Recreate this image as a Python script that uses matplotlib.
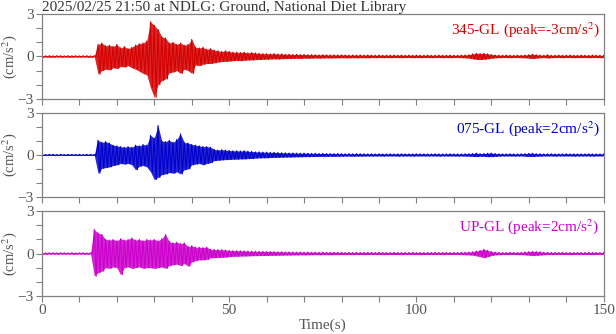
import matplotlib.pyplot as plt
import numpy as np
from matplotlib.ticker import MultipleLocator

plt.rcParams["font.family"] = ["Liberation Serif", "DejaVu Serif"]
plt.rcParams["mathtext.fontset"] = "stix"

TITLE = "2025/02/25 21:50 at NDLG: Ground, National Diet Library"

# envelope of each trace, one (max, min) pair per second, 0..150 s  (cm/s^2)
time_s = np.arange(0, 151)

red_max = [
    0.05, 0.04, 0.05, 0.04, 0.05, 0.05, 0.04, 0.05, 0.04, 0.05, 0.04, 0.05, 0.05, 0.04, 0.05,
    0.85, 0.95, 0.75, 0.80, 0.70, 0.85, 0.60, 0.70, 0.55, 0.65, 0.80, 0.90, 0.95, 1.10, 2.45,
    2.20, 1.90, 1.40, 1.30, 0.95, 1.00, 0.85, 0.95, 0.80, 0.85, 1.20, 0.65, 0.60, 0.65, 0.50,
    0.55, 0.45, 0.40, 0.35, 0.40, 0.35, 0.30, 0.30, 0.28, 0.30, 0.25, 0.28, 0.25, 0.22, 0.20,
    0.20, 0.18, 0.20, 0.17, 0.18, 0.15, 0.16, 0.14, 0.15, 0.13, 0.14, 0.12, 0.13, 0.12, 0.11,
    0.12, 0.11, 0.10, 0.11, 0.10, 0.11, 0.10, 0.09, 0.10, 0.09, 0.10, 0.09, 0.10, 0.09, 0.08,
    0.09, 0.08, 0.09, 0.08, 0.09, 0.08, 0.09, 0.08, 0.09, 0.08, 0.09, 0.08, 0.08, 0.09, 0.08,
    0.08, 0.09, 0.08, 0.08, 0.09, 0.08, 0.08, 0.09, 0.10, 0.12, 0.18, 0.22, 0.20, 0.22, 0.18,
    0.14, 0.10, 0.09, 0.08, 0.09, 0.08, 0.08, 0.09, 0.08, 0.10, 0.12, 0.16, 0.12, 0.09, 0.08,
    0.12, 0.08, 0.08, 0.09, 0.08, 0.08, 0.09, 0.08, 0.08, 0.09, 0.08, 0.08, 0.09, 0.08, 0.08,
    0.08,
]
red_min = [
    -0.05, -0.04, -0.05, -0.05, -0.04, -0.05, -0.04, -0.05, -0.05, -0.04, -0.05, -0.04, -0.05, -0.05, -0.04,
    -1.25, -1.00, -0.90, -0.95, -0.80, -0.85, -0.70, -0.75, -0.65, -0.80, -0.90, -1.05, -1.20, -1.30, -2.20,
    -2.90, -2.00, -1.70, -1.60, -1.15, -1.10, -1.00, -1.20, -0.90, -1.00, -1.20, -0.60, -0.65, -0.55, -0.50,
    -0.50, -0.45, -0.40, -0.35, -0.35, -0.33, -0.30, -0.28, -0.30, -0.27, -0.25, -0.25, -0.22, -0.22, -0.20,
    -0.20, -0.18, -0.17, -0.18, -0.16, -0.15, -0.15, -0.14, -0.13, -0.14, -0.12, -0.13, -0.12, -0.11, -0.12,
    -0.11, -0.10, -0.11, -0.10, -0.10, -0.09, -0.10, -0.10, -0.09, -0.10, -0.09, -0.09, -0.10, -0.08, -0.09,
    -0.08, -0.09, -0.08, -0.09, -0.08, -0.08, -0.09, -0.08, -0.08, -0.09, -0.08, -0.09, -0.08, -0.08, -0.09,
    -0.08, -0.08, -0.09, -0.08, -0.09, -0.08, -0.08, -0.09, -0.10, -0.12, -0.17, -0.21, -0.22, -0.20, -0.17,
    -0.13, -0.10, -0.09, -0.08, -0.08, -0.09, -0.08, -0.08, -0.09, -0.10, -0.12, -0.15, -0.12, -0.09, -0.08,
    -0.11, -0.09, -0.08, -0.08, -0.09, -0.08, -0.08, -0.09, -0.08, -0.08, -0.08, -0.09, -0.08, -0.08, -0.09,
    -0.08,
]

blue_max = [
    0.04, 0.03, 0.04, 0.04, 0.03, 0.04, 0.03, 0.04, 0.04, 0.03, 0.04, 0.03, 0.04, 0.04, 0.03,
    1.05, 0.90, 0.95, 0.85, 0.70, 0.65, 0.60, 0.55, 0.60, 0.55, 0.70, 0.65, 0.75, 0.70, 1.40,
    1.20, 2.10, 1.00, 0.95, 1.05, 0.90, 1.10, 1.50, 0.90, 0.85, 0.75, 0.70, 0.65, 0.60, 0.60,
    0.55, 0.40, 0.35, 0.38, 0.35, 0.32, 0.30, 0.30, 0.28, 0.30, 0.27, 0.25, 0.22, 0.22, 0.20,
    0.20, 0.18, 0.19, 0.17, 0.16, 0.15, 0.14, 0.14, 0.13, 0.12, 0.13, 0.12, 0.11, 0.12, 0.10,
    0.11, 0.10, 0.10, 0.09, 0.10, 0.09, 0.08, 0.09, 0.08, 0.09, 0.08, 0.08, 0.07, 0.08, 0.07,
    0.08, 0.07, 0.07, 0.08, 0.07, 0.07, 0.08, 0.07, 0.07, 0.07, 0.08, 0.07, 0.07, 0.07, 0.07,
    0.08, 0.07, 0.07, 0.07, 0.08, 0.07, 0.07, 0.07, 0.08, 0.09, 0.10, 0.13, 0.09, 0.10, 0.12,
    0.13, 0.10, 0.08, 0.07, 0.07, 0.08, 0.07, 0.07, 0.08, 0.09, 0.11, 0.12, 0.09, 0.08, 0.07,
    0.07, 0.08, 0.07, 0.07, 0.07, 0.08, 0.07, 0.07, 0.07, 0.07, 0.07, 0.08, 0.07, 0.07, 0.07,
    0.07,
]
blue_min = [
    -0.04, -0.04, -0.03, -0.04, -0.04, -0.03, -0.04, -0.04, -0.03, -0.04, -0.04, -0.03, -0.04, -0.03, -0.04,
    -1.30, -0.95, -0.90, -0.85, -0.75, -0.70, -0.60, -0.65, -0.60, -0.70, -1.05, -0.80, -0.75, -0.85, -1.20,
    -1.75, -1.60, -1.40, -1.35, -1.25, -1.30, -1.20, -1.35, -1.05, -1.00, -0.70, -0.65, -0.60, -0.70, -0.60,
    -0.55, -0.40, -0.38, -0.35, -0.33, -0.32, -0.30, -0.30, -0.28, -0.28, -0.26, -0.25, -0.22, -0.21, -0.20,
    -0.20, -0.18, -0.17, -0.17, -0.16, -0.15, -0.15, -0.14, -0.13, -0.13, -0.12, -0.12, -0.11, -0.11, -0.10,
    -0.10, -0.10, -0.09, -0.10, -0.09, -0.09, -0.08, -0.08, -0.09, -0.08, -0.08, -0.08, -0.07, -0.08, -0.07,
    -0.07, -0.08, -0.07, -0.07, -0.07, -0.08, -0.07, -0.07, -0.07, -0.08, -0.07, -0.07, -0.07, -0.07, -0.07,
    -0.07, -0.08, -0.07, -0.07, -0.07, -0.07, -0.08, -0.07, -0.08, -0.09, -0.10, -0.12, -0.09, -0.10, -0.12,
    -0.12, -0.10, -0.08, -0.07, -0.07, -0.07, -0.08, -0.07, -0.07, -0.09, -0.10, -0.11, -0.09, -0.08, -0.07,
    -0.07, -0.07, -0.08, -0.07, -0.07, -0.07, -0.07, -0.08, -0.07, -0.07, -0.07, -0.07, -0.08, -0.07, -0.07,
    -0.07,
]

pink_max = [
    0.05, 0.04, 0.05, 0.05, 0.04, 0.05, 0.05, 0.04, 0.05, 0.04, 0.05, 0.05, 0.04, 0.05, 1.70,
    1.45, 1.35, 1.00, 0.95, 1.00, 0.90, 1.05, 0.95, 1.00, 1.10, 0.95, 1.00, 0.90, 1.00, 0.95,
    1.00, 0.90, 1.05, 1.35, 0.85, 0.75, 0.80, 0.70, 0.75, 0.50, 0.55, 0.45, 0.45, 0.42, 0.45,
    0.30, 0.28, 0.27, 0.27, 0.25, 0.22, 0.20, 0.20, 0.19, 0.18, 0.17, 0.16, 0.16, 0.15, 0.15,
    0.14, 0.14, 0.13, 0.12, 0.12, 0.11, 0.11, 0.10, 0.10, 0.10, 0.09, 0.10, 0.09, 0.09, 0.08,
    0.09, 0.08, 0.08, 0.09, 0.08, 0.08, 0.07, 0.08, 0.07, 0.08, 0.07, 0.07, 0.08, 0.07, 0.07,
    0.08, 0.07, 0.07, 0.07, 0.08, 0.07, 0.07, 0.07, 0.07, 0.08, 0.07, 0.07, 0.07, 0.07, 0.07,
    0.08, 0.07, 0.07, 0.07, 0.07, 0.08, 0.07, 0.08, 0.09, 0.10, 0.12, 0.18, 0.22, 0.30, 0.22,
    0.14, 0.10, 0.08, 0.07, 0.07, 0.08, 0.07, 0.07, 0.08, 0.10, 0.13, 0.15, 0.14, 0.12, 0.09,
    0.08, 0.07, 0.07, 0.07, 0.08, 0.07, 0.07, 0.07, 0.07, 0.07, 0.07, 0.08, 0.07, 0.07, 0.07,
    0.07,
]
pink_min = [
    -0.05, -0.05, -0.04, -0.05, -0.05, -0.04, -0.05, -0.04, -0.05, -0.05, -0.04, -0.05, -0.05, -0.04, -1.60,
    -1.35, -1.25, -1.00, -1.05, -0.95, -1.00, -1.50, -1.00, -0.95, -1.05, -1.00, -0.95, -1.05, -1.00, -1.00,
    -1.05, -1.00, -0.95, -1.05, -0.85, -0.80, -0.75, -0.85, -0.70, -0.90, -0.60, -0.50, -0.45, -0.45, -0.42,
    -0.30, -0.30, -0.28, -0.27, -0.26, -0.22, -0.20, -0.20, -0.18, -0.18, -0.17, -0.16, -0.15, -0.15, -0.14,
    -0.14, -0.13, -0.13, -0.12, -0.12, -0.11, -0.11, -0.10, -0.10, -0.09, -0.10, -0.09, -0.09, -0.08, -0.09,
    -0.08, -0.08, -0.09, -0.08, -0.08, -0.07, -0.08, -0.07, -0.08, -0.07, -0.07, -0.08, -0.07, -0.07, -0.07,
    -0.07, -0.08, -0.07, -0.07, -0.07, -0.07, -0.08, -0.07, -0.07, -0.07, -0.07, -0.08, -0.07, -0.07, -0.07,
    -0.07, -0.07, -0.08, -0.07, -0.07, -0.07, -0.07, -0.08, -0.09, -0.10, -0.12, -0.17, -0.22, -0.30, -0.22,
    -0.14, -0.10, -0.08, -0.07, -0.08, -0.07, -0.07, -0.08, -0.08, -0.10, -0.12, -0.15, -0.13, -0.11, -0.09,
    -0.07, -0.08, -0.07, -0.07, -0.07, -0.07, -0.08, -0.07, -0.07, -0.07, -0.07, -0.07, -0.08, -0.07, -0.07,
    -0.07,
]

components = ["345-GL", "075-GL", "UP-GL"]
peaks = [-3, 2, 2]
colors = ["#d40000", "#0000cc", "#cc00cc"]
envelopes = [(red_max, red_min), (blue_max, blue_min), (pink_max, pink_min)]

fig = plt.figure(figsize=(6.16, 3.34), dpi=100)
gray = "#808080"
text_gray = "#555555"

# panel boxes in figure fraction
boxes = [(0.068, 0.704, 0.912, 0.254), (0.068, 0.410, 0.912, 0.252), (0.068, 0.114, 0.912, 0.254)]

for i, (name, peak, col, (hi, lo)) in enumerate(zip(components, peaks, colors, envelopes)):
    ax = fig.add_axes(boxes[i])
    # band between the per-second extremes, plus a zigzag through them for texture
    ax.fill_between(time_s, lo, hi, color=col, alpha=0.85, lw=0)
    zx = np.column_stack([time_s, time_s + 0.5]).ravel()[:-1]
    zy = np.column_stack([hi, lo]).ravel()[:-1]
    ax.plot(zx, zy, color=col, lw=0.8)
    ax.set_xlim(0, 150)
    ax.set_ylim(-3, 3)
    ax.xaxis.set_major_locator(MultipleLocator(50))
    ax.xaxis.set_minor_locator(MultipleLocator(10))
    ax.yaxis.set_major_locator(MultipleLocator(3))
    ax.yaxis.set_minor_locator(MultipleLocator(1))
    ax.tick_params(which="both", direction="out", length=4, width=0.8, color=gray,
                   labelcolor=text_gray, labelsize=11, pad=2)
    for sp in ax.spines.values():
        sp.set_color(gray)
        sp.set_linewidth(0.9)
    if i < 2:
        ax.tick_params(axis="x", labelbottom=False)
    ax.set_ylabel("(cm/s$^2$)", color=text_gray, fontsize=10.5)
    ax.yaxis.set_label_coords(-0.041, 0.5)
    ax.text(0.993, 0.93, f"{name} (peak={peak}cm/s$^2$)", transform=ax.transAxes,
            ha="right", va="top", color=col, fontsize=11)
    if i == 0:
        ax.set_title(TITLE, loc="left", fontsize=11, color="#333333", pad=1)
    if i == 2:
        ax.set_xlabel("Time(s)", color=text_gray, fontsize=11, labelpad=1)

fig.savefig("out.png", dpi=100)
